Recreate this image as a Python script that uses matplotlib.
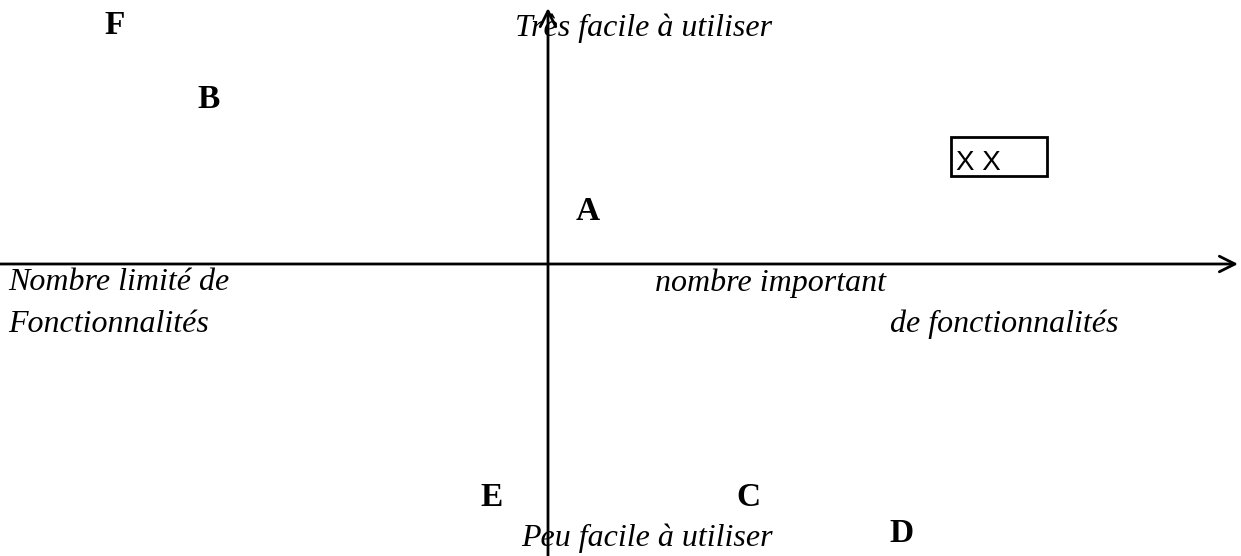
import matplotlib.pyplot as plt

# positioning map: letters placed on the two axes (pixel-like coordinates)
letters = ['F', 'B', 'A', 'E', 'C', 'D']
letter_x = [115, 209, 588, 492, 748, 902]
letter_y = [25, 100, 211, 497, 497, 533]

y_top = 'Très facile à utiliser'
y_bottom = 'Peu facile à utiliser'
x_left = ['Nombre limité de', 'Fonctionnalités']
x_right = ['nombre important', 'de fonctionnalités']

W, H = 1241, 556
ox, oy = 548, 264   # where the two axes cross

fig = plt.figure(figsize=(W / 100, H / 100), dpi=100)
ax = fig.add_axes([0, 0, 1, 1])
ax.set_xlim(0, W)
ax.set_ylim(H, 0)
ax.axis('off')

serif = ['Liberation Serif', 'DejaVu Serif']
fs = 23

# axes with open arrow heads
ax.annotate('', xy=(1238, oy), xytext=(0, oy),
            arrowprops=dict(arrowstyle='->', lw=2, color='black',
                            mutation_scale=28, shrinkA=0, shrinkB=0))
ax.annotate('', xy=(ox, 8), xytext=(ox, H),
            arrowprops=dict(arrowstyle='->', lw=2, color='black',
                            mutation_scale=28, shrinkA=0, shrinkB=0))

# axis captions
ax.text(644, 28, y_top, family=serif, style='italic', fontsize=fs,
        ha='center', va='center')
ax.text(647, 553, y_bottom, family=serif, style='italic', fontsize=fs,
        ha='center', va='bottom')
ax.text(8, 283, x_left[0], family=serif, style='italic', fontsize=fs, va='center')
ax.text(8, 324, x_left[1], family=serif, style='italic', fontsize=fs, va='center')
ax.text(655, 283, x_right[0], family=serif, style='italic', fontsize=fs, va='center')
ax.text(890, 324, x_right[1], family=serif, style='italic', fontsize=fs, va='center')

# products
for lab, x, y in zip(letters, letter_x, letter_y):
    ax.text(x, y, lab, family=serif, weight='bold', fontsize=24,
            ha='center', va='center')

# little boxed "X X"
ax.add_patch(plt.Rectangle((951, 137), 96, 39, fill=False, lw=2, ec='black'))
ax.text(956, 163, 'X X', family='Liberation Sans', fontsize=20, va='center')

fig.savefig('out.png', dpi=100)
